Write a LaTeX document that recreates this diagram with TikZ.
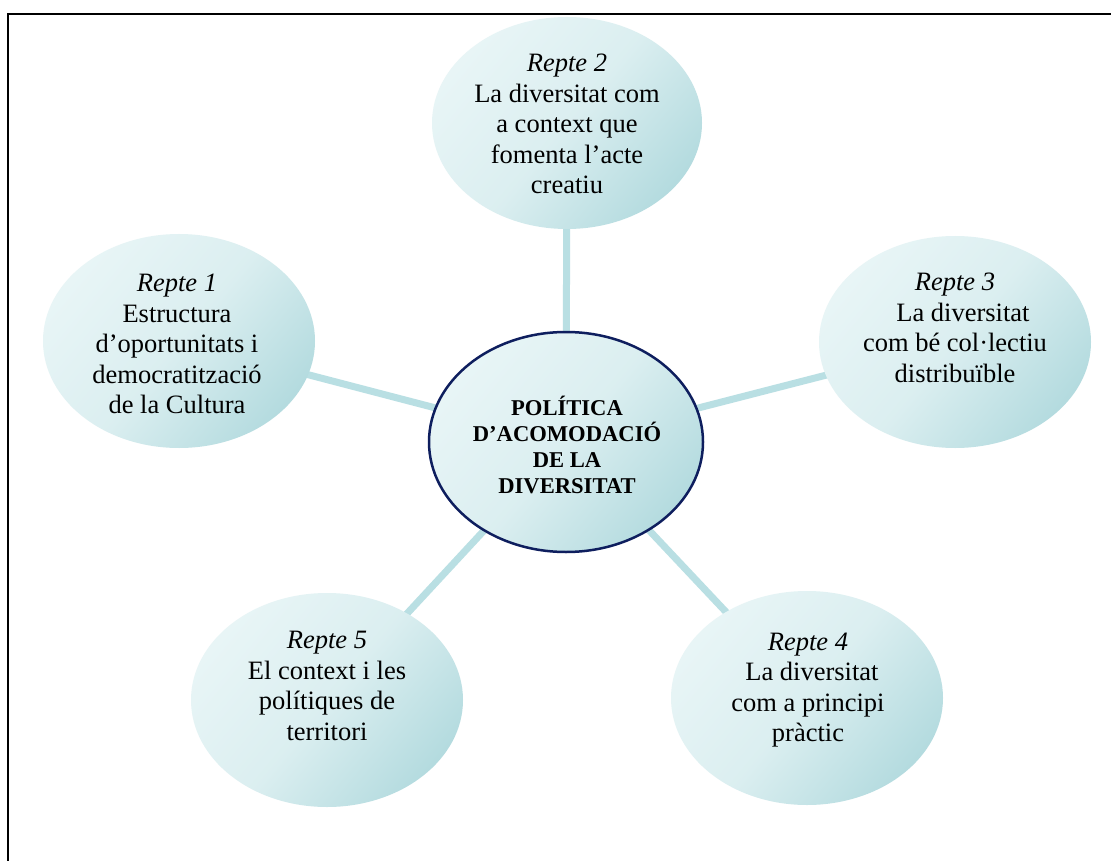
\documentclass[tikz,border=0pt]{standalone}
\usepackage{fontspec}
\setmainfont{Liberation Serif}
\usetikzlibrary{shapes.geometric,backgrounds}
\pgfdeclarelayer{paper}
\pgfsetlayers{paper,background,main}
\definecolor{bublight}{HTML}{E8F5F6}
\definecolor{bubdark}{HTML}{B4DBDF}
\definecolor{linkc}{HTML}{B9DFE3}
\definecolor{navy}{HTML}{0E1E5E}
\begin{document}
\begin{tikzpicture}[x=1pt,y=-1pt,
  bubble/.style={ellipse, inner sep=0pt, top color=bublight, bottom color=bubdark,
    middle color=bublight!75!bubdark, shading angle=50},
  txt/.style={align=center, font=\fontsize{26.5}{30.5}\selectfont, inner sep=0pt},
  ctxt/.style={align=center, font=\fontsize{22.6}{26}\selectfont\bfseries, inner sep=0pt},
  spoke/.style={draw=linkc, line width=7pt}]
\useasboundingbox (0,0) rectangle (1111,861);
\begin{pgfonlayer}{paper}
\fill[white] (0,0) rectangle (1111,861);
\end{pgfonlayer}
\clip (0,0) rectangle (1111,861);
\draw[line width=2.5pt] (8,14) rectangle (1140,900);
% ellipses
\node[bubble, minimum width=274pt, minimum height=220pt, draw=navy, line width=2.5pt] (c) at (566,442) {};
\node[bubble, minimum width=270pt, minimum height=212pt] (e2) at (567,123) {};
\node[bubble, minimum width=272pt, minimum height=214pt] (e1) at (179,341) {};
\node[bubble, minimum width=272pt, minimum height=212pt] (e3) at (955,342) {};
\node[bubble, minimum width=272pt, minimum height=214pt] (e5) at (327,700) {};
\node[bubble, minimum width=272pt, minimum height=214pt] (e4) at (807,698) {};
% spokes
\begin{pgfonlayer}{background}
\foreach \e in {e1,e2,e3,e4,e5} \draw[spoke] (c.center) -- (\e.center);
\end{pgfonlayer}
% texts
\node[ctxt] (tc) at (567,445) {POLÍTICA\\D’ACOMODACIÓ\\DE LA\\DIVERSITAT};
\node[txt] (t2) at (567,124) {\textit{Repte 2}\\La diversitat com\\a context que\\fomenta l’acte\\creatiu};
\node[txt] (t1) at (177,344) {\textit{Repte 1}\\Estructura\\d’oportunitats i\\democratització\\de la Cultura};
\node[txt] (t3) at (955,328) {\textit{Repte 3}\\\hspace*{0.6em}La diversitat\\com bé col·lectiu\\distribuïble};
\node[txt] (t5) at (327,686) {\textit{Repte 5}\\El context i les\\polítiques de\\territori};
\node[txt] (t4) at (808,690) {\textit{Repte 4}\\\hspace*{0.3em}La diversitat\\com a principi\\pràctic};
\end{tikzpicture}
\end{document}
